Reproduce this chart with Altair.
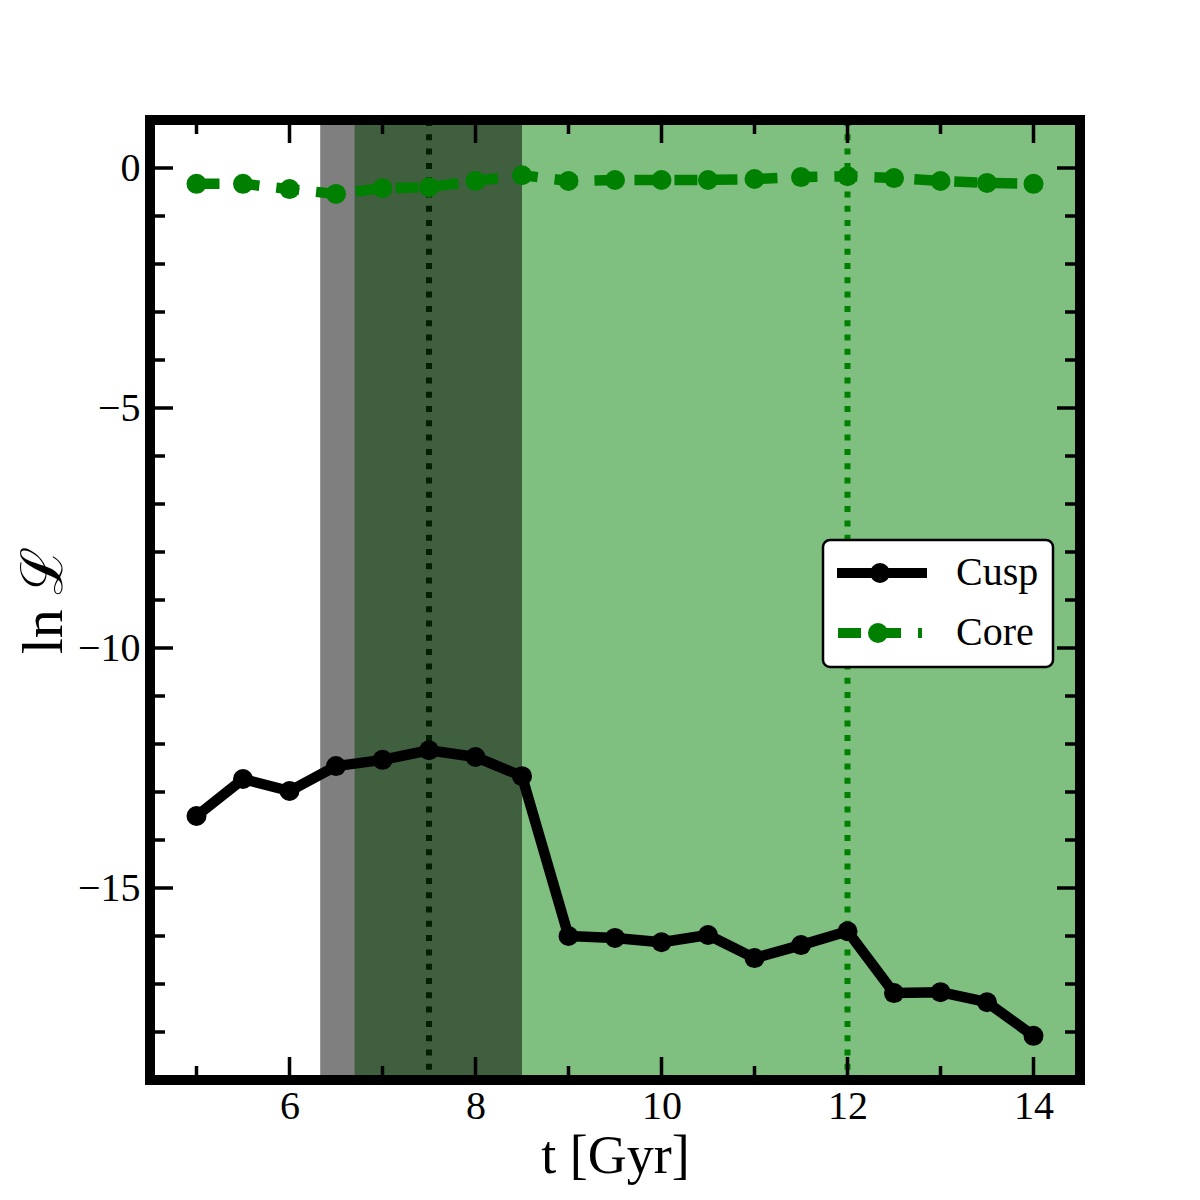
import altair as alt
import pandas as pd

# ---------------- data ----------------
T = [5, 5.5, 6, 6.5, 7, 7.5, 8, 8.5, 9, 9.5, 10, 10.5, 11, 11.5, 12, 12.5, 13, 13.5, 14]
CUSP = [-13.5, -12.73, -12.98, -12.46, -12.33, -12.13, -12.27, -12.67, -16.0, -16.04,
        -16.13, -15.98, -16.46, -16.19, -15.9, -17.19, -17.17, -17.38, -18.08]
CORE = [-0.33, -0.33, -0.44, -0.54, -0.42, -0.40, -0.27, -0.15, -0.27, -0.25,
        -0.25, -0.25, -0.23, -0.19, -0.17, -0.21, -0.27, -0.31, -0.33]
SERIES = ["Cusp", "Core"]
COLORS = ["#000000", "#008000"]

X_DOMAIN = [4.5, 14.5]
Y_DOMAIN = [-19, 1]
X_MAJOR = [6, 8, 10, 12, 14]
X_MINOR = [5, 7, 9, 11, 13]
Y_MAJOR = [0, -5, -10, -15]
Y_MINOR = [-1, -2, -3, -4, -6, -7, -8, -9, -11, -12, -13, -14, -16, -17, -18]

GRAY_SPAN = [6.33, 8.5]
GREEN_SPAN = [6.7, 14.5]
VLINES = [7.5, 12]
VLINE_COLORS = ["#000000", "#008000"]

# legend symbols: line with a marker in the middle (custom symbol paths, unit = 14 px)
LEGEND_PATHS = [
    "M-1.714,0H5.0M2.0,0A0.357,0.357,0,1,1,1.286,0A0.357,0.357,0,1,1,2.0,0Z",
    "M-1.357,0H0.286M1.5,0H3.143M4.357,0H4.643M1.857,0A0.357,0.357,0,1,1,1.143,0A0.357,0.357,0,1,1,1.857,0Z",
]

FONT = "Liberation Serif"

# ---------------- tables ----------------
series_df = pd.DataFrame({
    "t": T * 2,
    "v": CUSP + CORE,
    "s": ["Cusp"] * len(T) + ["Core"] * len(T),
})
cusp_df = series_df[series_df.s == "Cusp"]
core_df = series_df[series_df.s == "Core"]

vline_df = pd.DataFrame({"t": VLINES, "c": VLINE_COLORS})
green_df = pd.DataFrame({"x0": [GREEN_SPAN[0]], "x1": [GREEN_SPAN[1]]})
gray_df = pd.DataFrame({"x0": [GRAY_SPAN[0]], "x1": [GRAY_SPAN[1]]})

xt_rows = []
for v in X_MAJOR:
    for e in Y_DOMAIN:
        xt_rows.append({"v": v, "e": e, "len": 46})
for v in X_MINOR:
    for e in Y_DOMAIN:
        xt_rows.append({"v": v, "e": e, "len": 28})
xticks_df = pd.DataFrame(xt_rows)

yt_rows = []
for v in Y_MAJOR:
    for e in X_DOMAIN:
        yt_rows.append({"v": v, "e": e, "len": 46})
for v in Y_MINOR:
    for e in X_DOMAIN:
        yt_rows.append({"v": v, "e": e, "len": 30})
yticks_df = pd.DataFrame(yt_rows)

frame_df = pd.DataFrame({"x0": [X_DOMAIN[0]], "x1": [X_DOMAIN[1]],
                         "y0": [Y_DOMAIN[0]], "y1": [Y_DOMAIN[1]]})
legend_df = pd.DataFrame({"s": SERIES, "t": [T[0], T[0]], "v": [CUSP[0], CORE[0]]})

# ---------------- encodings ----------------
X_AXIS = alt.Axis(values=X_MAJOR, format="d", title="t [Gyr]", ticks=False, tickSize=0,
                  domain=False, grid=False, labelFont=FONT, labelFontSize=40,
                  labelColor="black", labelPadding=6, titleFont=FONT, titleFontSize=54,
                  titleFontWeight="normal", titleColor="black", titleBaseline="alphabetic",
                  titleY=92)
Y_AXIS = alt.Axis(values=Y_MAJOR, format="d", title="ln ℒ", ticks=False, tickSize=0,
                  domain=False, grid=False, labelFont=FONT, labelFontSize=40,
                  labelColor="black", labelPadding=10, titleFont=FONT, titleFontSize=58,
                  titleFontWeight="normal", titleColor="black", titleBaseline="alphabetic",
                  titleX=-89, titleAngle=270)


def xenc(f):
    return alt.X(f"{f}:Q", scale=alt.Scale(domain=X_DOMAIN, nice=False, zero=False), axis=X_AXIS)


def yenc(f):
    return alt.Y(f"{f}:Q", scale=alt.Scale(domain=Y_DOMAIN, nice=False, zero=False), axis=Y_AXIS)


vlines = alt.Chart(vline_df).mark_rule(strokeDash=[6, 8.3], strokeWidth=6).encode(
    x=xenc("t"), stroke=alt.Stroke("c:N", scale=None, legend=None))

green_span = alt.Chart(green_df).mark_rect(color="#008000", opacity=0.5).encode(
    x=xenc("x0"), x2="x1")
gray_span = alt.Chart(gray_df).mark_rect(color="#000000", opacity=0.5).encode(
    x=xenc("x0"), x2="x1")

cusp_line = alt.Chart(cusp_df).mark_line(color="#000000", strokeWidth=10.5,
                                         strokeJoin="round").encode(
    x=xenc("t"), y=yenc("v"))
cusp_pts = alt.Chart(cusp_df).mark_circle(color="#000000", size=400, opacity=1).encode(
    x=xenc("t"), y=yenc("v"))
core_line = alt.Chart(core_df).mark_line(color="#008000", strokeWidth=10.5,
                                         strokeDash=[23, 17], strokeJoin="round").encode(
    x=xenc("t"), y=yenc("v"))
core_pts = alt.Chart(core_df).mark_circle(color="#008000", size=400, opacity=1).encode(
    x=xenc("t"), y=yenc("v"))

xticks = alt.Chart(xticks_df).mark_tick(orient="vertical", clip=True, thickness=3.5,
                                        color="black", opacity=1).encode(
    x=xenc("v"), y=yenc("e"), size=alt.Size("len:Q", scale=None, legend=None))
yticks = alt.Chart(yticks_df).mark_tick(orient="horizontal", clip=True, thickness=3.5,
                                        color="black", opacity=1).encode(
    x=xenc("e"), y=yenc("v"), size=alt.Size("len:Q", scale=None, legend=None))

frame = alt.Chart(frame_df).mark_rect(fill="transparent", stroke="black", strokeWidth=10).encode(
    x=xenc("x0"), x2="x1", y=yenc("y0"), y2="y1")

LEG = alt.Legend(title=None, orient="none", legendX=673, legendY=420,
                 symbolSize=784, symbolStrokeWidth=10, symbolOpacity=1, labelOffset=79,
                 labelFont=FONT, labelFontSize=40, labelColor="black", clipHeight=38,
                 padding=14, rowPadding=20, fillColor="white", strokeColor="black",
                 cornerRadius=7)
legend_layer = alt.Chart(legend_df).mark_point(filled=False, strokeWidth=10, opacity=1).encode(
    x=xenc("t"), y=yenc("v"),
    color=alt.Color("s:N", scale=alt.Scale(domain=SERIES, range=COLORS), legend=LEG),
    shape=alt.Shape("s:N", scale=alt.Scale(domain=SERIES, range=LEGEND_PATHS), legend=LEG),
).transform_filter("false")

chart = alt.layer(
    vlines, green_span, gray_span, cusp_line, cusp_pts, core_line, core_pts,
    xticks, yticks, frame, legend_layer
).properties(
    width=930, height=960,
    padding={"left": 150, "top": 120, "right": 120, "bottom": 120},
    autosize="none", background="white",
).configure_view(stroke=None).configure_legend(strokeWidth=2.5)

chart.save("out.html", embed_options={"renderer": "svg", "actions": False})
